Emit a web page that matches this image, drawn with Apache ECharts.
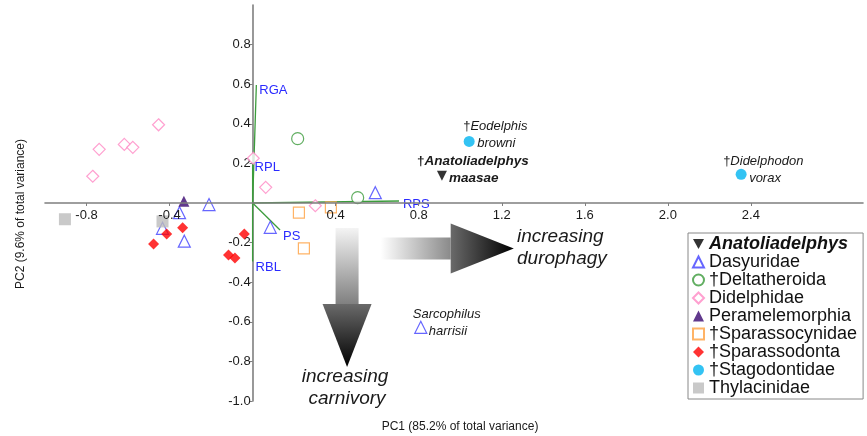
<!DOCTYPE html>
<html><head><meta charset="utf-8">
<script src="https://cdn.jsdelivr.net/npm/echarts@6/dist/echarts.min.js"></script>
<style>html,body{margin:0;padding:0;background:#fff}#c{width:867px;height:436px}</style>
</head><body><div id="c"></div>
<script>
// ---- tick labels ----
const xTickValues = [-0.8, -0.4, 0.4, 0.8, 1.2, 1.6, 2.0, 2.4];
const yTickValues = [-1.0, -0.8, -0.6, -0.4, -0.2, 0.2, 0.4, 0.6, 0.8];

// ---- PC scores by group [PC1, PC2] ----
const anatoliadelphys = [[0.912, 0.138]];
const dasyuridae = [[0.591, 0.052], [0.085, -0.123], [-0.21, -0.008], [-0.352, -0.049], [-0.434, -0.128], [-0.329, -0.193], [0.81, -0.628]];
const deltatheroida = [[0.217, 0.325], [0.506, 0.027]];
const didelphidae = [[-0.453, 0.395], [-0.739, 0.271], [-0.618, 0.296], [-0.577, 0.281], [-0.770, 0.135], [0.003, 0.226], [0.063, 0.079], [0.302, -0.014]];
const peramelemorphia = [[-0.331, 0.009]];
const sparassocynidae = [[0.223, -0.049], [0.377, -0.022], [0.247, -0.229]];
const sparassodonta = [[-0.477, -0.207], [-0.414, -0.157], [-0.337, -0.125], [-0.04, -0.157], [-0.116, -0.263], [-0.085, -0.278]];
const stagodontidae = [[1.043, 0.311], [2.353, 0.145]];
const thylacinidae = [[-0.904, -0.082], [-0.434, -0.093]];

// ---- loading vectors ----
const loadingNames = ['RGA', 'RPL', 'RPS', 'PS', 'RBL'];
const loadingEnds = [[0.018, 0.596], [0.0, 0.20], [0.705, 0.01], [0.132, -0.136], [0.0, -0.296]];

// ---- annotated species ----
const noteLines1 = ['Eodelphis', 'Anatoliadelphys', 'Didelphodon', 'Sarcophilus'];
const noteDagger = [true, true, true, false];
const noteLines2 = ['browni', 'maasae', 'vorax', 'harrisii'];
const notePoints = [stagodontidae[0], anatoliadelphys[0], stagodontidae[1], dasyuridae[6]];

const FONT = '"Liberation Sans", Arial, sans-serif';
const chart = echarts.init(document.getElementById('c'));
const GRID = {left: 45, right: 4, top: 5, bottom: 35};

function hollow(name, data, color, symbol, size) {
  return {type: 'scatter', name, data, symbol, symbolSize: size, z: 5,
    itemStyle: {color: '#ffffff', borderColor: color, borderWidth: 1.2}, emphasis: {disabled: true}};
}
function filled(name, data, color, symbol, size, extra) {
  return Object.assign({type: 'scatter', name, data, symbol, symbolSize: size, z: 5,
    itemStyle: {color}, emphasis: {disabled: true}}, extra || {});
}

const series = [];
loadingEnds.forEach((e, i) => {
  series.push({type: 'line', name: 'load_' + loadingNames[i], data: [[0, 0], e], symbol: 'none', z: 3,
    lineStyle: {color: '#3c9c3c', width: 1.3}, silent: true});
});
series.push(
  filled('Anatoliadelphys', anatoliadelphys, '#000000', 'triangle', 10, {symbolRotate: 180}),
  hollow('Dasyuridae', dasyuridae, '#4040ff', 'triangle', 12),
  hollow('†Deltatheroida', deltatheroida, '#3a9a3a', 'circle', 12),
  hollow('Didelphidae', didelphidae, '#ff88c4', 'diamond', 12),
  filled('Peramelemorphia', peramelemorphia, '#3a0870', 'triangle', 11),
  hollow('†Sparassocynidae', sparassocynidae, '#ffa040', 'rect', 11),
  filled('†Sparassodonta', sparassodonta, '#ff0000', 'diamond', 11),
  filled('†Stagodontidae', stagodontidae, '#00b4f0', 'circle', 11),
  filled('Thylacinidae', thylacinidae, '#bcbcbc', 'rect', 12)
);

const axisLineStyle = {color: '#7f7f7f', width: 1.6};
chart.setOption({
  animation: false,
  backgroundColor: '#ffffff',
  grid: GRID,
  xAxis: {type: 'value', min: -1, max: 2.94, z: 6,
    axisLine: {onZero: false, lineStyle: axisLineStyle},
    axisTick: {show: true, length: 3, customValues: xTickValues, lineStyle: {color: '#7f7f7f'}},
    axisLabel: {customValues: xTickValues, fontSize: 13, color: '#1a1a1a', margin: 6, fontFamily: FONT,
      formatter: v => v.toFixed(1)},
    splitLine: {show: false}},
  yAxis: {type: 'value', min: -1, max: 1,
    axisLine: {onZero: false, lineStyle: axisLineStyle},
    axisTick: {show: true, length: 3, customValues: yTickValues, lineStyle: {color: '#7f7f7f'}},
    axisLabel: {customValues: yTickValues, fontSize: 13, color: '#1a1a1a', margin: 2, fontFamily: FONT,
      formatter: v => v.toFixed(1)},
    splitLine: {show: false}},
  legend: {
    orient: 'vertical', left: 688, top: 233, itemWidth: 11, itemHeight: 11, itemGap: 0,
    padding: [2, 6, 2, 4], borderColor: '#888888', borderWidth: 1, backgroundColor: '#ffffff',
    textStyle: {fontSize: 18, lineHeight: 17.8, color: '#111111', fontFamily: FONT},
    data: [
      {name: 'Anatoliadelphys', icon: 'path://M0,0 L10,0 L5,9 Z', textStyle: {fontWeight: 'bold', fontStyle: 'italic'}},
      'Dasyuridae', '†Deltatheroida', 'Didelphidae', 'Peramelemorphia',
      '†Sparassocynidae', '†Sparassodonta', '†Stagodontidae', 'Thylacinidae'
    ]
  },
  series
});

// move the axes so they cross at (0,0), using the chart's own scale
const px = p => chart.convertToPixel({gridIndex: 0}, p);
const zero = px([0, 0]);
const gridBottomPx = chart.getHeight() - GRID.bottom;
chart.setOption({
  yAxis: {offset: -(zero[0] - GRID.left)},
  xAxis: {offset: -(gridBottomPx - zero[1])}
});

// ---- annotations ----
const graphics = [];

// loading labels
const loadOffsets = [[3, 5], [2, 4], [4, 3], [3, 6], [3, 6]];
loadingEnds.forEach((e, i) => {
  const p = px(e);
  graphics.push({type: 'text', z: 6, style: {text: loadingNames[i], x: p[0] + loadOffsets[i][0], y: p[1] + loadOffsets[i][1],
    font: '13px ' + FONT, fill: '#2a2aff', verticalAlign: 'middle', textAlign: 'left'}});
});

// species labels
const noteOff1 = [[-6, -15], [-25, -14], [-18, -13], [-8, -13]];
const noteOff2 = [[8, 2], [7, 3], [8, 4], [8, 4]];
notePoints.forEach((pt, i) => {
  const p = px(pt);
  const bold = i === 1 ? 'bold ' : '';
  const size = i === 1 ? '13.5px ' : '13px ';
  const txt = (noteDagger[i] ? '{d|†}' : '') + '{i|' + noteLines1[i] + '}';
  graphics.push({type: 'text', z: 6, style: {text: txt, x: p[0] + noteOff1[i][0], y: p[1] + noteOff1[i][1],
    verticalAlign: 'middle',
    rich: {d: {font: bold + size + FONT, fill: '#1a1a1a'}, i: {font: 'italic ' + bold + size + FONT, fill: '#1a1a1a'}}}});
  graphics.push({type: 'text', z: 6, style: {text: noteLines2[i], x: p[0] + noteOff2[i][0], y: p[1] + noteOff2[i][1],
    font: 'italic ' + bold + size + FONT, fill: '#1a1a1a', verticalAlign: 'middle'}});
});

// horizontal arrow (increasing durophagy)
const hTail = px([0.617, -0.23]), hBase = px([0.954, -0.23]), hTip = px([1.258, -0.23]);
graphics.push({type: 'polygon', z: 1, shape: {points: [[hTail[0], hTail[1] - 11], [hBase[0], hBase[1] - 11], [hBase[0], hBase[1] + 11], [hTail[0], hTail[1] + 11]]},
  style: {fill: {type: 'linear', x: 0, y: 0, x2: 1, y2: 0, colorStops: [{offset: 0, color: '#ffffff'}, {offset: 1, color: '#8a8a8a'}]}}});
graphics.push({type: 'polygon', z: 1, shape: {points: [[hBase[0], hBase[1] - 25], [hTip[0], hTip[1]], [hBase[0], hBase[1] + 25]]},
  style: {fill: {type: 'linear', x: 0, y: 0, x2: 1, y2: 0, colorStops: [{offset: 0, color: '#6a6a6a'}, {offset: 1, color: '#000000'}]}}});

// vertical arrow (increasing carnivory)
const vTail = px([0.455, -0.126]), vBase = px([0.455, -0.51]), vTip = px([0.455, -0.828]);
graphics.push({type: 'polygon', z: 1, shape: {points: [[vTail[0] - 11.5, vTail[1]], [vTail[0] + 11.5, vTail[1]], [vBase[0] + 11.5, vBase[1]], [vBase[0] - 11.5, vBase[1]]]},
  style: {fill: {type: 'linear', x: 0, y: 0, x2: 0, y2: 1, colorStops: [{offset: 0, color: '#f4f4f4'}, {offset: 1, color: '#808080'}]}}});
graphics.push({type: 'polygon', z: 1, shape: {points: [[vBase[0] - 24.5, vBase[1]], [vBase[0] + 24.5, vBase[1]], [vTip[0], vTip[1]]]},
  style: {fill: {type: 'linear', x: 0, y: 0, x2: 0, y2: 1, colorStops: [{offset: 0, color: '#6a6a6a'}, {offset: 1, color: '#000000'}]}}});

// arrow captions
graphics.push({type: 'text', z: 6, style: {text: 'increasing', x: 517, y: 237, font: 'italic 19px ' + FONT, fill: '#1a1a1a', verticalAlign: 'middle'}});
graphics.push({type: 'text', z: 6, style: {text: 'durophagy', x: 517, y: 259, font: 'italic 19px ' + FONT, fill: '#1a1a1a', verticalAlign: 'middle'}});
graphics.push({type: 'text', z: 6, style: {text: 'increasing', x: 345, y: 377, font: 'italic 19px ' + FONT, fill: '#1a1a1a', verticalAlign: 'middle', textAlign: 'center'}});
graphics.push({type: 'text', z: 6, style: {text: 'carnivory', x: 347, y: 399, font: 'italic 19px ' + FONT, fill: '#1a1a1a', verticalAlign: 'middle', textAlign: 'center'}});

// axis titles
graphics.push({type: 'text', z: 6, style: {text: 'PC1 (85.2% of total variance)', x: 460, y: 427, font: '12px ' + FONT, fill: '#1a1a1a', verticalAlign: 'middle', textAlign: 'center'}});
graphics.push({type: 'text', z: 6, x: 21, y: 214, rotation: Math.PI / 2, style: {text: 'PC2 (9.6% of total variance)', x: 0, y: 0, font: '12px ' + FONT, fill: '#1a1a1a', verticalAlign: 'middle', textAlign: 'center'}});

chart.setOption({graphic: graphics});
</script>
</body></html>
